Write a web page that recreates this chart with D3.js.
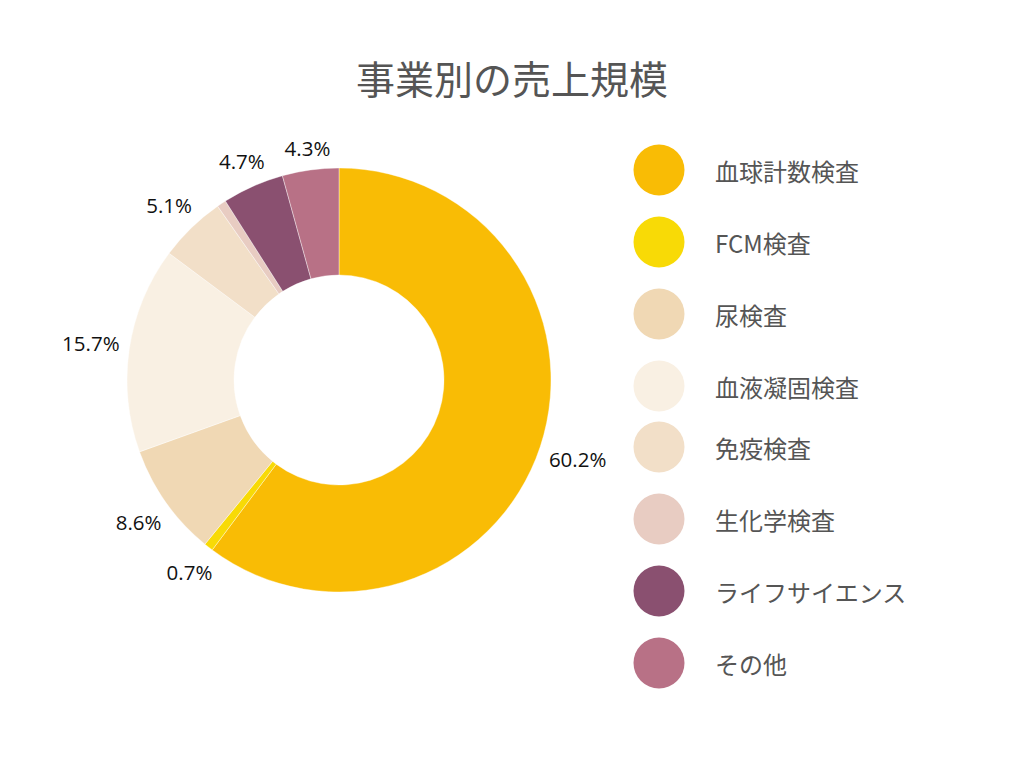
<!DOCTYPE html>
<html><head><meta charset="utf-8">
<script src="https://cdn.jsdelivr.net/npm/d3@7"></script>
<style>body{margin:0;background:#fff;}svg{display:block;}</style>
</head><body>
<svg id="c" width="1024" height="768"></svg>
<script>
const title = "事業別の売上規模";
const categories = ["血球計数検査","FCM検査","尿検査","血液凝固検査","免疫検査","生化学検査","ライフサイエンス","その他"];
const values = [60.2, 0.7, 8.6, 15.7, 5.1, 0.7, 4.7, 4.3];
const labels = ["60.2%","0.7%","8.6%","15.7%","5.1%","","4.7%","4.3%"];
const colors = ["#F9BC05","#F8DA06","#F0D8B4","#F9F0E3","#F2DFC8","#E8CCC2","#8A5070","#B87186"];

const svg = d3.select("#c");
const cx = 339, cy = 380, rOut = 212, rIn = 105;

svg.append("text").attr("x",512).attr("y",77).attr("text-anchor","middle")
  .attr("dominant-baseline","central")
  .attr("font-family","'Noto Sans CJK JP', 'Noto Sans', sans-serif")
  .attr("font-size",39).attr("fill","#555").text(title);

const pie = d3.pie().sort(null).value(d=>d)(values);
const arc = d3.arc().innerRadius(rIn).outerRadius(rOut);
const g = svg.append("g").attr("transform",`translate(${cx},${cy})`);
g.selectAll("path").data(pie).join("path")
  .attr("d",arc).attr("fill",(d,i)=>colors[i])
  .attr("stroke","#fff").attr("stroke-width",0.4);

const R0 = 221;
pie.forEach((d,i)=>{
  if(!labels[i]) return;
  const a = (d.startAngle+d.endAngle)/2;
  const sx = Math.sin(a), sy = -Math.cos(a);
  const t = g.append("text").attr("text-anchor","middle").attr("dominant-baseline","central")
    .attr("font-family","'Open Sans', sans-serif").attr("font-size",20.5).attr("fill","#111")
    .text(labels[i]);
  const bb = t.node().getBBox();
  const D = R0 + Math.abs(sx)*bb.width/2 + Math.abs(sy)*10;
  t.attr("x", sx*D).attr("y", sy*D);
});

const leg = svg.append("g");
categories.forEach((c,i)=>{
  const y = 170 + i*72 - (i>=4 ? 11 : 0);
  leg.append("circle").attr("cx",659).attr("cy",y).attr("r",25.5).attr("fill",colors[i]);
  leg.append("text").attr("x",715).attr("y",y).attr("dominant-baseline","central")
    .attr("font-family","'Noto Sans CJK JP', 'Noto Sans', sans-serif")
    .attr("font-size",24).attr("fill","#555").text(c);
});
</script>
</body></html>
